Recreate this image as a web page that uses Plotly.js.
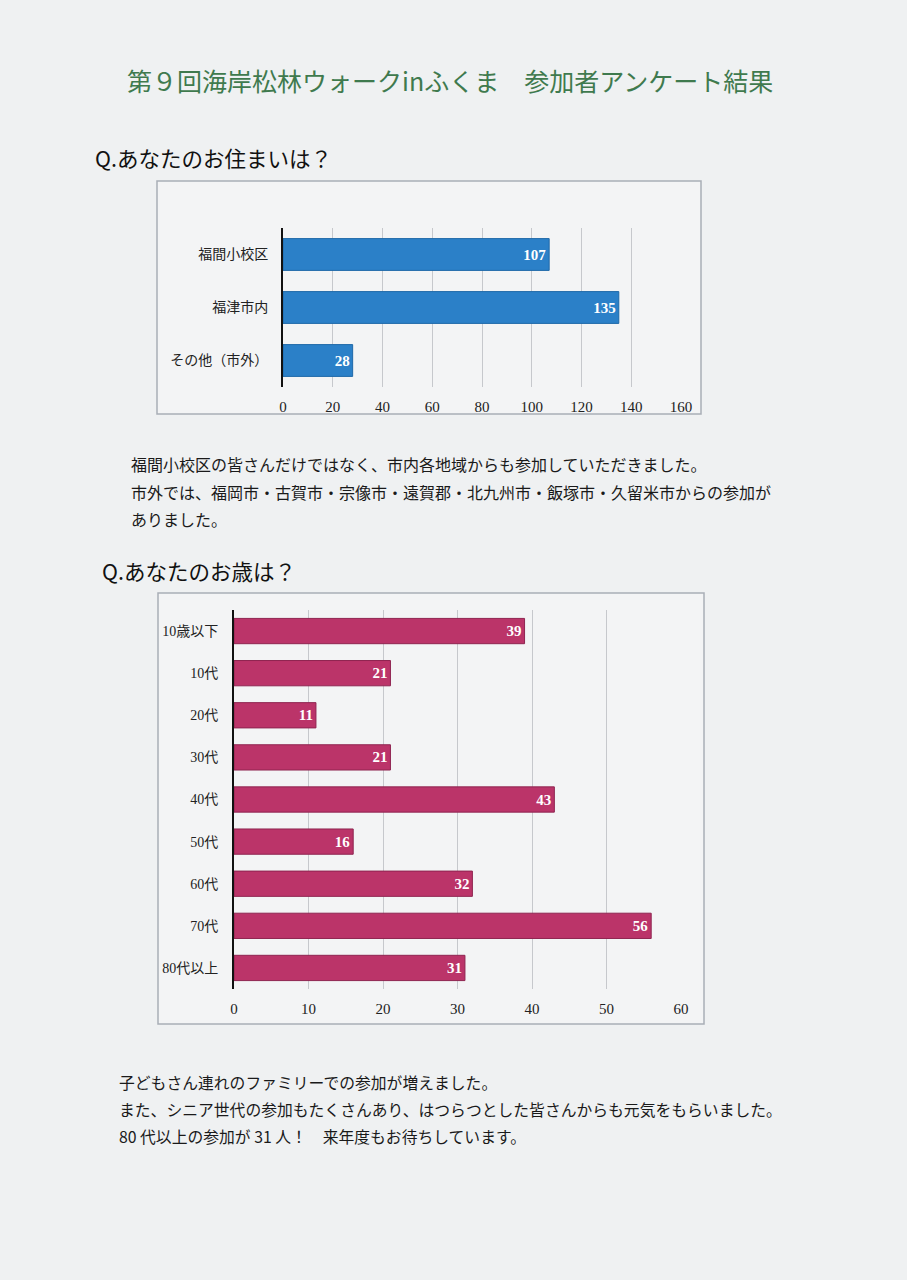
<!DOCTYPE html>
<html>
<head>
<meta charset="utf-8">
<script src="https://cdn.plot.ly/plotly-3.0.1.min.js"></script>
<style>
html,body{margin:0;padding:0;background:#eff1f2;}
#chart{width:907px;height:1280px;}
</style>
</head>
<body>
<div id="chart"></div>
<script>
// ---- Data ----
const residenceCategories = ["福間小校区", "福津市内", "その他（市外）"];
const residenceValues = [107, 135, 28];
const residenceTicks = [0, 20, 40, 60, 80, 100, 120, 140, 160];

const ageCategories = ["10歳以下", "10代", "20代", "30代", "40代", "50代", "60代", "70代", "80代以上"];
const ageValues = [39, 21, 11, 21, 43, 16, 32, 56, 31];
const ageTicks = [0, 10, 20, 30, 40, 50, 60];

const pageTitle = "第９回海岸松林ウォークinふくま　参加者アンケート結果";
const q1 = "Q.あなたのお住まいは？";
const q2 = "Q.あなたのお歳は？";
const comment1 = [
  "福間小校区の皆さんだけではなく、市内各地域からも参加していただきました。",
  "市外では、福岡市・古賀市・宗像市・遠賀郡・北九州市・飯塚市・久留米市からの参加が",
  "ありました。"
];
const comment2 = [
  "子どもさん連れのファミリーでの参加が増えました。",
  "また、シニア世代の参加もたくさんあり、はつらつとした皆さんからも元気をもらいました。",
  "80 代以上の参加が 31 人！　来年度もお待ちしています。"
];

// ---- Helpers ----
const W = 907, H = 1280;
const px = x => x / W;
const py = y => 1 - y / H;
const JP = "'Noto Sans CJK JP', 'Noto Sans', sans-serif";
const SERIF = "'Liberation Serif', 'DejaVu Serif', 'Noto Sans CJK JP', serif";

const traces = [
  {
    type: "bar", orientation: "h",
    x: residenceValues, y: residenceCategories,
    xaxis: "x", yaxis: "y",
    width: 0.6,
    marker: {color: "#2b80c8", line: {color: "#1f68a8", width: 1}},
    text: residenceValues.map(String),
    textposition: "inside", insidetextanchor: "end",
    textfont: {family: SERIF, size: 15, color: "#ffffff", weight: 700},
    hoverinfo: "skip"
  },
  {
    type: "bar", orientation: "h",
    x: ageValues, y: ageCategories,
    xaxis: "x2", yaxis: "y2",
    width: 0.6,
    marker: {color: "#bb3469", line: {color: "#8f2450", width: 1}},
    text: ageValues.map(String),
    textposition: "inside", insidetextanchor: "end",
    textfont: {family: SERIF, size: 15, color: "#ffffff", weight: 700},
    hoverinfo: "skip"
  }
];

const annotations = [
  {text: pageTitle, x: px(450), y: py(80), xanchor: "center", yanchor: "middle",
   font: {family: JP, size: 25, color: "#3f7a4e"}},
  {text: q1, x: px(93), y: py(157), xanchor: "left", yanchor: "middle",
   font: {family: JP, size: 21.5, color: "#111111"}},
  {text: q2, x: px(100), y: py(570), xanchor: "left", yanchor: "middle",
   font: {family: JP, size: 21.5, color: "#111111"}}
];
[464, 492, 519].forEach((y, i) => annotations.push({
  text: comment1[i], x: px(129), y: py(y), xanchor: "left", yanchor: "middle",
  font: {family: JP, size: 16, color: "#1a1a1a"}
}));
[1082, 1109, 1136].forEach((y, i) => annotations.push({
  text: comment2[i], x: px(117), y: py(y), xanchor: "left", yanchor: "middle",
  font: {family: JP, size: 15.8, color: "#1a1a1a"}
}));
annotations.forEach(a => { a.xref = "paper"; a.yref = "paper"; a.showarrow = false; });

const shapes = [
  {type: "rect", xref: "paper", yref: "paper", layer: "below",
   x0: px(157), x1: px(701), y0: py(181), y1: py(414),
   fillcolor: "#f3f4f5", line: {color: "#a9aeb6", width: 1.5}},
  {type: "rect", xref: "paper", yref: "paper", layer: "below",
   x0: px(158), x1: px(704), y0: py(593), y1: py(1024),
   fillcolor: "#f3f4f5", line: {color: "#a9aeb6", width: 1.5}}
];

const xCommon = {
  showgrid: true, gridcolor: "#c6c8cc", gridwidth: 1,
  zeroline: false, showline: false,
  ticks: "outside", ticklen: 6, tickcolor: "rgba(0,0,0,0)",
  tickfont: {family: SERIF, size: 15, color: "#222222"},
  fixedrange: true
};
const yCommon = {
  autorange: "reversed", showgrid: false, zeroline: false,
  showline: true, linecolor: "#111111", linewidth: 2,
  ticks: "outside", tickcolor: "rgba(0,0,0,0)",
  tickfont: {family: SERIF, size: 14, color: "#222222"},
  fixedrange: true
};

const layout = {
  width: W, height: H,
  margin: {l: 0, r: 0, t: 0, b: 0},
  paper_bgcolor: "#eff1f2", plot_bgcolor: "rgba(0,0,0,0)",
  showlegend: false,
  xaxis: Object.assign({}, xCommon, {domain: [px(283), px(681)], range: [0, 160],
    tickvals: residenceTicks, anchor: "y"}),
  yaxis: Object.assign({}, yCommon, {domain: [py(387), py(228)], anchor: "x", ticklen: 10}),
  xaxis2: Object.assign({}, xCommon, {domain: [px(234), px(681)], range: [0, 60],
    tickvals: ageTicks, anchor: "y2"}),
  yaxis2: Object.assign({}, yCommon, {domain: [py(989), py(610)], anchor: "x2", ticklen: 11}),
  annotations: annotations,
  shapes: shapes
};

Plotly.newPlot("chart", traces, layout, {displayModeBar: false, staticPlot: true});
</script>
</body>
</html>
